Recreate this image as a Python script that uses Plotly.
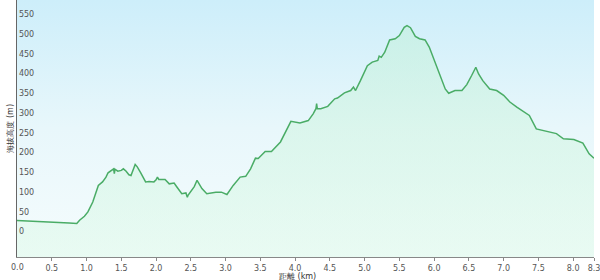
import plotly.graph_objects as go

distance_km = [0.00, 0.10, 0.20, 0.33, 0.47, 0.60, 0.75, 0.86, 0.90, 0.97, 1.02, 1.09, 1.17, 1.23,
               1.28, 1.31, 1.37, 1.39, 1.40, 1.41, 1.45, 1.50, 1.53, 1.57, 1.61, 1.64, 1.70, 1.73,
               1.78, 1.85, 1.90, 1.97, 2.00, 2.02, 2.04, 2.13, 2.19, 2.26, 2.30, 2.37, 2.43, 2.45,
               2.46, 2.51, 2.55, 2.59, 2.66, 2.73, 2.80, 2.86, 2.94, 3.02, 3.11, 3.21, 3.29, 3.36,
               3.43, 3.47, 3.57, 3.66, 3.79, 3.86, 3.94, 4.07, 4.19, 4.26, 4.30, 4.31, 4.32, 4.37,
               4.47, 4.57, 4.61, 4.71, 4.80, 4.84, 4.87, 4.94, 5.04, 5.11, 5.19, 5.21, 5.24, 5.29,
               5.36, 5.44, 5.50, 5.57, 5.61, 5.66, 5.73, 5.79, 5.87, 5.93, 6.01, 6.11, 6.16, 6.21,
               6.30, 6.40, 6.47, 6.54, 6.60, 6.64, 6.70, 6.80, 6.90, 7.00, 7.09, 7.19, 7.29, 7.37,
               7.47, 7.61, 7.76, 7.86, 8.01, 8.14, 8.23, 8.30]
elevation_m = [42, 41, 41, 40, 37, 36, 36, 35, 43, 53, 64, 89, 131, 140,
               152, 163, 171, 173, 161, 172, 167, 169, 173, 167, 158, 156, 184, 178,
               163, 140, 141, 140, 145, 152, 146, 146, 135, 137, 127, 110, 112, 101,
               106, 119, 128, 144, 123, 110, 113, 114, 114, 108, 131, 152, 154, 173,
               200, 199, 217, 217, 241, 266, 293, 289, 295, 312, 325, 338, 325, 325,
               331, 350, 352, 365, 371, 380, 371, 396, 434, 443, 447, 458, 455, 468,
               499, 502, 510, 531, 535, 530, 508, 502, 499, 481, 443, 396, 375, 364,
               371, 371, 386, 409, 430, 413, 396, 375, 371, 359, 342, 329, 318, 308,
               274, 268, 262, 249, 247, 238, 211, 200]

x_tickvals = [0, 0.5, 1.0, 1.5, 2.0, 2.5, 3.0, 3.5, 4.0, 4.5, 5.0, 5.5, 6.0, 6.5, 7.0, 7.5, 8.0, 8.3]
x_ticktext = ["0.0", "0.5", "1.0", "1.5", "2.0", "2.5", "3.0", "3.5", "4.0", "4.5", "5.0", "5.5",
              "6.0", "6.5", "7.0", "7.5", "8.0", "8.3"]
y_tickvals = [0, 50, 100, 150, 200, 250, 300, 350, 400, 450, 500, 550]
y_title = "海拔高度 (m)"
x_title = "距離 (km)"

X_MIN, X_MAX = 0, 8.3
Y_MIN, Y_MAX = -50, 600

fig = go.Figure()

# background gradient panel
fig.add_trace(go.Scatter(
    x=[X_MIN, X_MAX, X_MAX, X_MIN, X_MIN], y=[Y_MIN, Y_MIN, Y_MAX, Y_MAX, Y_MIN],
    mode="none", fill="toself",
    fillgradient=dict(type="vertical", start=Y_MIN, stop=Y_MAX,
                      colorscale=[[0, "#f5fcfd"], [0.5, "#e8f7fb"], [1, "#cdeefa"]]),
    hoverinfo="skip", showlegend=False))

# baseline for area fill
fig.add_trace(go.Scatter(x=[X_MIN, X_MAX], y=[Y_MIN, Y_MIN], mode="lines",
                         line=dict(width=0), hoverinfo="skip", showlegend=False))

fig.add_trace(go.Scatter(
    x=distance_km, y=elevation_m, mode="lines",
    line=dict(color="#4aac66", width=1.5),
    fill="tonexty",
    fillgradient=dict(type="vertical", start=Y_MIN, stop=540,
                      colorscale=[[0, "rgba(218,249,230,0.45)"], [1, "rgba(190,240,210,0.45)"]]),
    showlegend=False))

# plotly suppresses the first x label next to inside y labels; draw it as an annotation
first_label = x_ticktext[0]
shown_ticktext = [""] + x_ticktext[1:]

fig.update_layout(
    width=600, height=280,
    margin=dict(l=17, r=2, t=0, b=23),
    paper_bgcolor="white", plot_bgcolor="white",
    font=dict(family="DejaVu Sans", size=8, color="#555555"),
    xaxis=dict(range=[X_MIN, X_MAX], tickvals=x_tickvals, ticktext=shown_ticktext,
               showgrid=False, zeroline=False, showline=True, linecolor="#888888",
               linewidth=1, ticks="outside", ticklen=3, tickcolor="#888888",
               ticklabeloverflow="allow", ticklabelstandoff=0,
               tickfont=dict(size=8, color="#555555")),
    yaxis=dict(range=[Y_MIN, Y_MAX], tickvals=y_tickvals,
               showgrid=True, gridcolor="#c6d3d8", gridwidth=1, zeroline=False,
               showline=True, linecolor="#666666", linewidth=1,
               ticklabelposition="inside top", ticks="",
               tickfont=dict(size=8, color="#555555")),
    annotations=[
        dict(text=y_title, xref="paper", yref="paper", x=-7 / 581, y=0.5,
             textangle=-90, showarrow=False, font=dict(size=8, color="#333333"),
             xanchor="center", yanchor="middle"),
        dict(text=x_title, xref="paper", yref="paper", x=0.486, y=-19 / 257,
             showarrow=False, font=dict(size=8, color="#333333"),
             xanchor="center", yanchor="middle"),
        dict(text=first_label, xref="x", yref="paper", x=x_tickvals[0], y=-10 / 257,
             showarrow=False, font=dict(size=8, color="#555555"),
             xanchor="center", yanchor="middle"),
    ],
)

fig.write_html("out.html")
